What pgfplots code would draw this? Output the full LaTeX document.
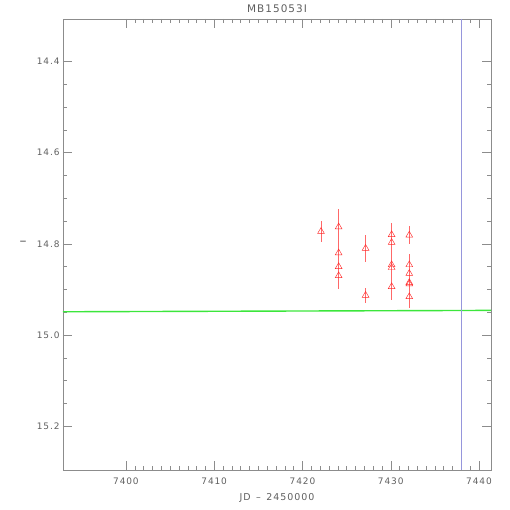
\documentclass[border=0pt]{standalone}
\usepackage{pgfplots}
\usepackage{pgfplotstable}
\usepackage{fontspec}
\setmainfont{DejaVu Sans}
\newfontfamily\idlfont[LetterSpace=10]{DejaVu Sans}
\pgfplotsset{compat=1.18}
\definecolor{idlgray}{RGB}{140,140,140}
\definecolor{idltext}{RGB}{95,95,95}
\definecolor{idlred}{RGB}{255,40,40}
\definecolor{idlgreen}{RGB}{60,230,60}
\definecolor{idlblue}{RGB}{150,150,220}

\pgfplotstableread{
jd      mag     err
7422.1  14.773  0.022
7424.1  14.763  0.040
7424.1  14.820  0.025
7424.1  14.850  0.025
7424.1  14.870  0.028
7427.15 14.810  0.030
7427.15 14.913  0.017
7430.1  14.780  0.026
7430.1  14.797  0.024
7430.1  14.846  0.028
7430.1  14.852  0.026
7430.1  14.894  0.030
7432.1  14.781  0.020
7432.1  14.846  0.024
7432.1  14.865  0.025
7432.1  14.885  0.026
7432.1  14.888  0.027
7432.1  14.916  0.024
}\phot

\begin{document}
\begin{tikzpicture}
\begin{axis}[
  name=lc,
  scale only axis,
  width=428bp, height=451bp,
  xmin=7392.87, xmax=7441.36,
  ymin=14.307, ymax=15.296,
  y dir=reverse,
  axis line style={idlgray},
  every tick/.style={idlgray},
  tick align=inside,
  major tick length=9bp, minor tick length=4.5bp,
  xtick={7400,7410,7420,7430,7440},
  minor x tick num=9,
  ytick={14.4,14.6,14.8,15.0,15.2},
  minor y tick num=3,
  yticklabel style={/pgf/number format/.cd,fixed,fixed zerofill,precision=1},
  xticklabel style={yshift=-4bp,/pgf/number format/.cd,set thousands separator={}},
  /pgf/number format/assume math mode=true,
  tick label style={font=\idlfont\fontsize{9}{10}\selectfont, text=idltext},
  title={MB15053I},
  title style={font=\idlfont\fontsize{10.5}{12}\selectfont, text=idltext, yshift=-3bp},
  xlabel={JD \,–\, 2450000},
  xlabel style={font=\idlfont\fontsize{9.5}{11}\selectfont, text=idltext, yshift=-2bp},
]
\addplot[idlgreen, line width=1.4pt] coordinates {(7392.87,14.949) (7441.36,14.946)};
\addplot[idlblue, line width=0.6pt] coordinates {(7438,14.307) (7438,15.296)};
\addplot[only marks, mark=triangle, mark size=3.9bp, idlred, line width=0.45pt,
  error bars/.cd, y dir=both, y explicit, error mark=none,
  error bar style={color=idlred!70, line width=0.6pt}]
  table[x=jd, y=mag, y error=err] {\phot};
\end{axis}
\node[text=idltext, font=\fontsize{14}{15}\selectfont, inner sep=0pt]
  at ([xshift=-40bp,yshift=1bp]lc.west) {–};
\pgfresetboundingbox
\path[use as bounding box] (-63bp,-40bp) rectangle (447bp,470bp);
\end{tikzpicture}
\end{document}
